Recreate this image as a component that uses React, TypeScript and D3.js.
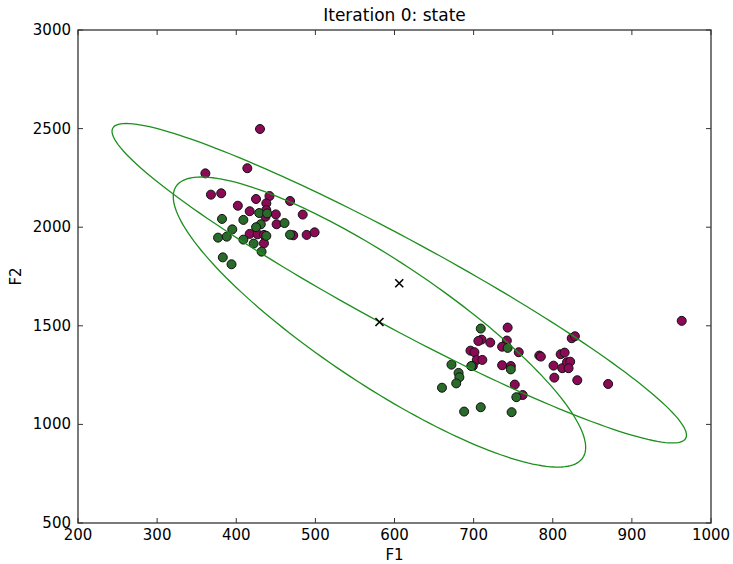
import React from 'react'
import * as d3 from 'd3'

// cluster points: [F1, F2]
const purplePoints: [number, number][] = [
  [430, 2498], [361, 2273], [414, 2299], [368, 2165], [381, 2172], [425, 2143],
  [442, 2158], [438, 2121], [468, 2133], [402, 2109], [417, 2081], [438, 2087],
  [437, 2053], [450, 2065], [484, 2064], [451, 2015], [417, 1966], [427, 1964],
  [435, 1961], [472, 1959], [489, 1961], [499, 1974], [435, 1918],
  [743, 1491], [710, 1430], [706, 1423], [721, 1415], [742, 1425], [736, 1394],
  [757, 1366], [696, 1374], [701, 1366], [704, 1327], [711, 1327], [699, 1296],
  [736, 1300], [747, 1296], [783, 1349], [785, 1344], [810, 1356], [815, 1364],
  [824, 1437], [828, 1447], [801, 1298], [812, 1285], [818, 1315], [822, 1318],
  [820, 1285], [802, 1237], [831, 1224], [870, 1205], [752, 1202], [762, 1149],
  [963, 1525],
]

const greenPoints: [number, number][] = [
  [382, 2042], [409, 2037], [395, 1989], [377, 1947], [388, 1952], [409, 1937],
  [422, 1917], [429, 2072], [439, 2070], [431, 2015], [425, 2000], [438, 1956],
  [461, 2021], [468, 1962], [432, 1876], [383, 1847], [394, 1812],
  [709, 1486], [743, 1388], [747, 1279], [672, 1303], [681, 1261], [682, 1239],
  [678, 1208], [660, 1186], [697, 1296], [754, 1138], [688, 1065], [709, 1087],
  [748, 1062],
]

// component means (crosses) and covariance-shaped ellipses
const means: [number, number][] = [[606, 1716], [581, 1519]]
const covariances: [number, number, number][] = [
  // sxx, sxy, syy
  [131769, -279675, 656100],
  [67912, -165653, 540960],
]

const xTicks = [200, 300, 400, 500, 600, 700, 800, 900, 1000]
const yTicks = [500, 1000, 1500, 2000, 2500, 3000]

const W = 733
const H = 564
const margin = { top: 30, right: 22, bottom: 41, left: 78 }
const font = 'DejaVu Sans, sans-serif'

export default function App() {
  const x = d3.scaleLinear().domain([200, 1000]).range([margin.left, W - margin.right])
  const y = d3.scaleLinear().domain([500, 3000]).range([H - margin.bottom, margin.top])
  const [x0, x1] = x.range()
  const [y0, y1] = y.range()

  const ellipsePath = (m: [number, number], c: [number, number, number]) => {
    const [sxx, sxy, syy] = c
    const l11 = Math.sqrt(sxx)
    const l21 = sxy / l11
    const l22 = Math.sqrt(Math.max(syy - l21 * l21, 0))
    const pts = d3.range(0, 360, 2).map(a => {
      const t = (a * Math.PI) / 180
      const u = Math.cos(t), v = Math.sin(t)
      return [m[0] + l11 * u, m[1] + l21 * u + l22 * v] as [number, number]
    })
    return d3.line<[number, number]>()
      .x(d => x(d[0]))
      .y(d => y(d[1]))
      .curve(d3.curveLinearClosed)(pts) || ''
  }

  const tickLen = 5
  const fs = 15

  return (
    <div style={{ position: 'fixed', left: 0, top: 0, background: '#fff' }}>
      <svg width={W} height={H} style={{ display: 'block' }}>
        <rect width={W} height={H} fill="#fff" />
        <defs>
          <clipPath id="plot">
            <rect x={x0} y={y1} width={x1 - x0} height={y0 - y1} />
          </clipPath>
        </defs>

        <g clipPath="url(#plot)">
          {purplePoints.map((d, i) => (
            <circle key={'p' + i} cx={x(d[0])} cy={y(d[1])} r={4.5}
              fill="#8b0a56" stroke="#111" strokeWidth={1} />
          ))}
          {greenPoints.map((d, i) => (
            <circle key={'g' + i} cx={x(d[0])} cy={y(d[1])} r={4.5}
              fill="#2a6a2a" stroke="#111" strokeWidth={1} />
          ))}
          {means.map((m, i) => (
            <path key={'e' + i} d={ellipsePath(m, covariances[i])}
              fill="none" stroke="#1d8f1d" strokeWidth={1.3} />
          ))}
          {means.map((m, i) => {
            const cx = x(m[0]), cy = y(m[1]), s = 4
            return (
              <path key={'m' + i}
                d={`M${cx - s},${cy - s}L${cx + s},${cy + s}M${cx - s},${cy + s}L${cx + s},${cy - s}`}
                stroke="#000" strokeWidth={1.6} />
            )
          })}
        </g>

        {/* ticks on all four sides, pointing inward */}
        {xTicks.map(t => (
          <g key={'xt' + t}>
            <line x1={x(t)} x2={x(t)} y1={y0} y2={y0 - tickLen} stroke="#333" />
            <line x1={x(t)} x2={x(t)} y1={y1} y2={y1 + tickLen} stroke="#333" />
            <text x={x(t)} y={y0 + 17} textAnchor="middle" fontFamily={font} fontSize={fs} fill="#000">{t}</text>
          </g>
        ))}
        {yTicks.map(t => (
          <g key={'yt' + t}>
            <line x1={x0} x2={x0 + tickLen} y1={y(t)} y2={y(t)} stroke="#333" />
            <line x1={x1} x2={x1 - tickLen} y1={y(t)} y2={y(t)} stroke="#333" />
            <text x={x0 - 7} y={y(t) + 5} textAnchor="end" fontFamily={font} fontSize={fs} fill="#000">{t}</text>
          </g>
        ))}

        <rect x={x0} y={y1} width={x1 - x0} height={y0 - y1} fill="none" stroke="#333" strokeWidth={1.3} />

        <text x={(x0 + x1) / 2} y={21} textAnchor="middle" fontFamily={font} fontSize={17} fill="#000">Iteration 0: state</text>
        <text x={(x0 + x1) / 2} y={560} textAnchor="middle" fontFamily={font} fontSize={fs} fill="#000">F1</text>
        <text transform={`translate(21,${(y0 + y1) / 2}) rotate(-90)`} textAnchor="middle" fontFamily={font} fontSize={fs} fill="#000">F2</text>
      </svg>
    </div>
  )
}
